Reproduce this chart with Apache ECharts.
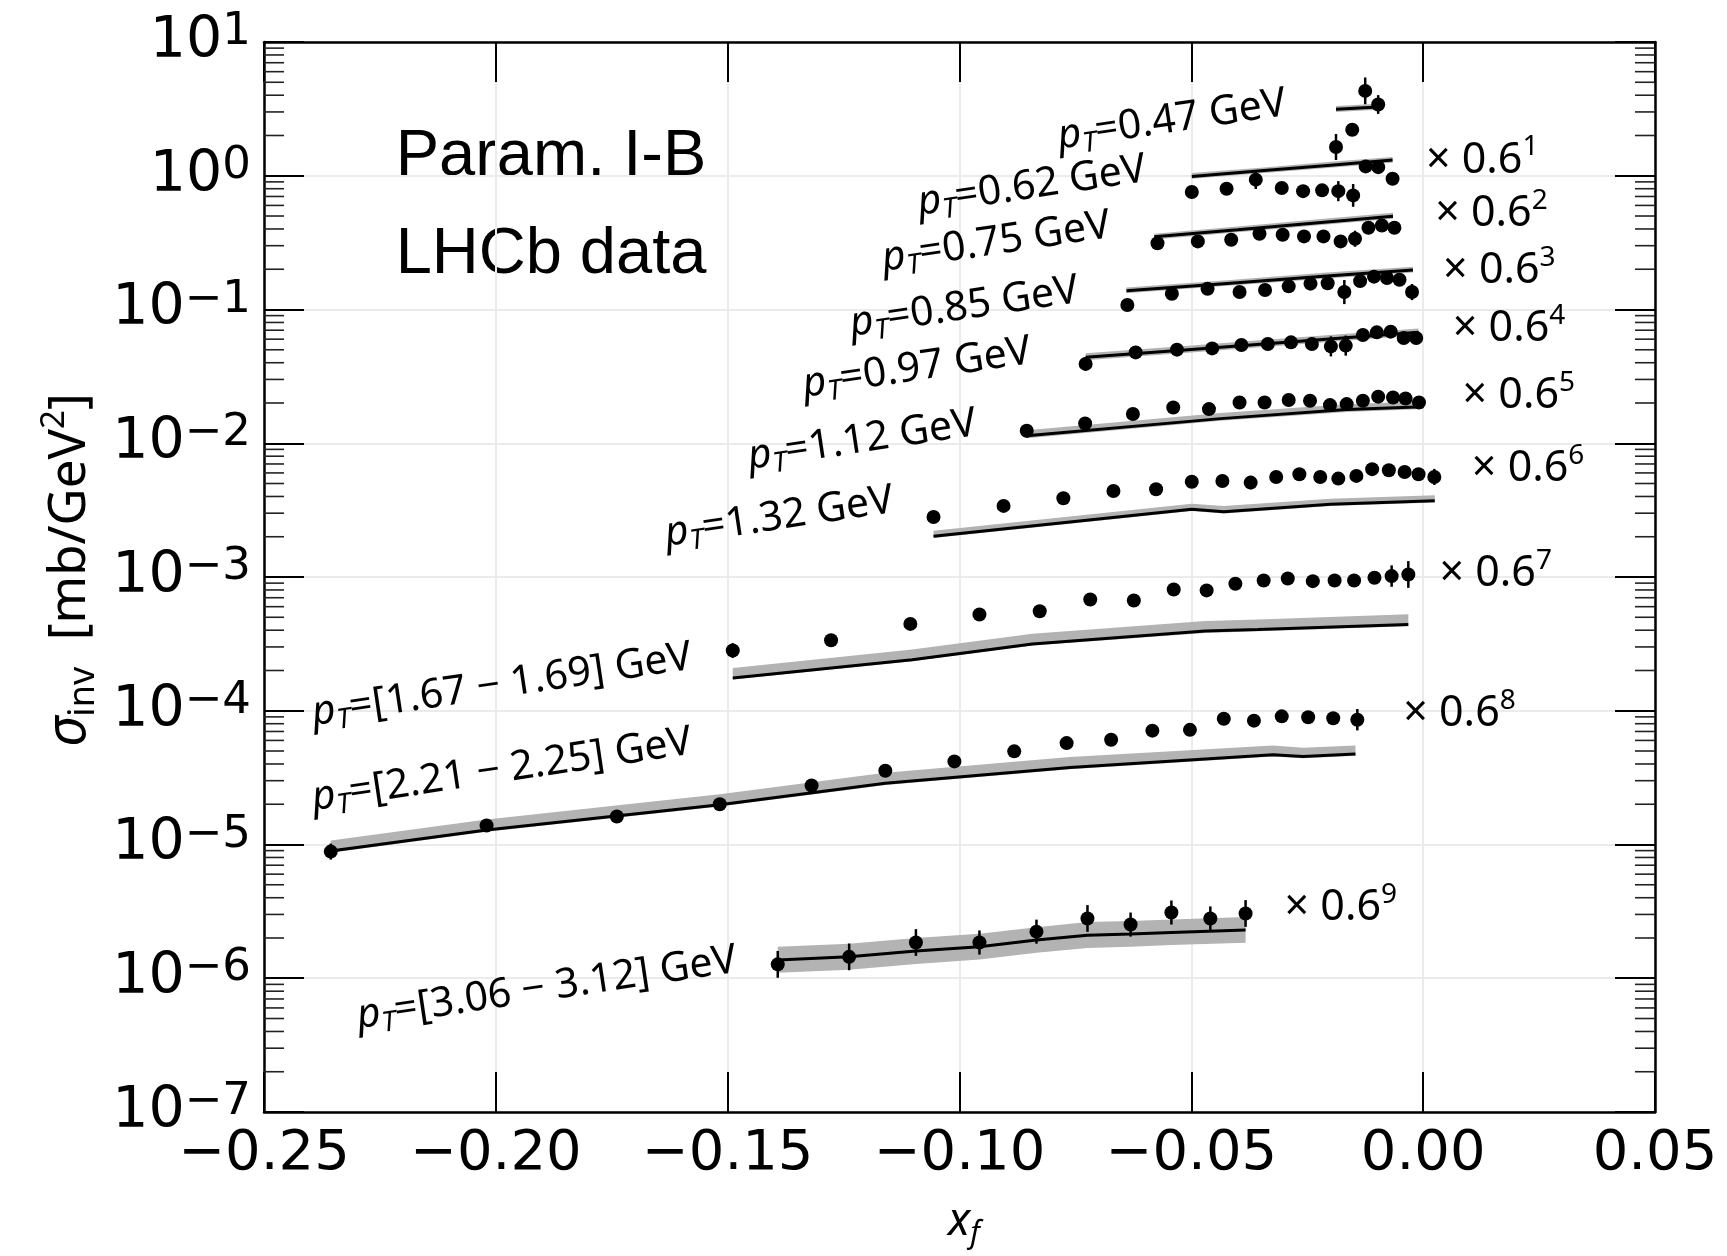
<!DOCTYPE html>
<html><head><meta charset="utf-8">
<script src="https://cdn.jsdelivr.net/npm/echarts@6/dist/echarts.min.js"></script>
<style>html,body{margin:0;padding:0;background:#fff}#c{width:1727px;height:1256px}</style>
</head><body><div id="c"></div>
<script>
// ---------- axis settings ----------
const xMin = -0.25, xMax = 0.05, xStep = 0.05;
const yMin = 1e-7, yMax = 10;
const minorMantissas = [2, 3, 4, 5, 6, 7, 8, 9];
const minorExps = [-7, -6, -5, -4, -3, -2, -1, 0];

// ---------- data (values as plotted, incl. x0.6^n scaling) ----------
// pT = 0.47 GeV
const x047 = [-0.0188, -0.0153, -0.0125, -0.0097];
const y047 = [1.64, 2.21, 4.31, 3.41];
const e047 = [0.097, 0, 0.1, 0.07];
const mx047 = [-0.0188, -0.0097];
const my047 = [3.14, 3.27];
const lo047 = [3.0, 3.12];
const hi047 = [3.32, 3.45];
// pT = 0.62 GeV  x0.6^1
const x062 = [-0.0499, -0.0424, -0.0361, -0.0305, -0.0259, -0.0218, -0.0183, -0.0151, -0.0124, -0.0097, -0.0066];
const y062 = [0.755, 0.80, 0.935, 0.81, 0.767, 0.778, 0.767, 0.713, 1.175, 1.16, 0.95];
const e062 = [0, 0, 0.07, 0, 0, 0, 0.075, 0.085, 0, 0, 0];
const mx062 = [-0.0499, -0.035, -0.020, -0.0066];
const my062 = [0.987, 1.089, 1.20, 1.31];
const lo062 = [0.95, 1.045, 1.15, 1.25];
const hi062 = [1.05, 1.15, 1.27, 1.38];
// pT = 0.75 GeV  x0.6^2
const x075 = [-0.0573, -0.0486, -0.0414, -0.0353, -0.0303, -0.0257, -0.0215, -0.0178, -0.0147, -0.0118, -0.0089, -0.0062];
const y075 = [0.313, 0.323, 0.332, 0.368, 0.362, 0.352, 0.352, 0.323, 0.338, 0.408, 0.425, 0.408];
const e075 = [0, 0, 0, 0.045, 0, 0, 0, 0, 0.06, 0, 0, 0];
const mx075 = [-0.058, -0.040, -0.022, -0.0065];
const my075 = [0.350, 0.394, 0.447, 0.498];
const lo075 = [0.334, 0.378, 0.429, 0.478];
const hi075 = [0.369, 0.418, 0.474, 0.528];
// pT = 0.85 GeV  x0.6^3
const x085 = [-0.0638, -0.0542, -0.0465, -0.0396, -0.0341, -0.0290, -0.0243, -0.0206, -0.0170, -0.0136, -0.0106, -0.0078, -0.0051, -0.0024];
const y085 = [0.108, 0.131, 0.143, 0.135, 0.140, 0.149, 0.156, 0.157, 0.135, 0.163, 0.176, 0.172, 0.167, 0.135];
const e085 = [0, 0, 0, 0, 0, 0, 0, 0, 0.09, 0, 0, 0, 0, 0.06];
const mx085 = [-0.064, -0.043, -0.0215, -0.0022];
const my085 = [0.138, 0.156, 0.177, 0.197];
const lo085 = [0.132, 0.150, 0.170, 0.189];
const hi085 = [0.146, 0.165, 0.188, 0.209];
// pT = 0.97 GeV  x0.6^4
const x097 = [-0.0728, -0.0620, -0.0531, -0.0455, -0.0392, -0.0335, -0.0285, -0.0240, -0.0199, -0.0167, -0.0130, -0.0100, -0.0070, -0.0042, -0.0015];
const y097 = [0.0392, 0.0478, 0.0501, 0.0512, 0.0543, 0.0552, 0.0568, 0.0552, 0.0530, 0.0537, 0.0645, 0.0675, 0.0683, 0.0613, 0.0613];
const e097 = [0.05, 0, 0, 0, 0, 0, 0, 0, 0.075, 0.075, 0, 0, 0, 0, 0];
const mx097 = [-0.0728, -0.050, -0.026, -0.001];
const my097 = [0.0439, 0.0503, 0.0581, 0.0675];
const lo097 = [0.0417, 0.0478, 0.0552, 0.0641];
const hi097 = [0.0470, 0.0538, 0.0622, 0.0722];
// pT = 1.12 GeV  x0.6^5
const x112 = [-0.0855, -0.0729, -0.0626, -0.0539, -0.0462, -0.0396, -0.0342, -0.0290, -0.0244, -0.0201, -0.0165, -0.0130, -0.0097, -0.0065, -0.0038, -0.0009];
const y112 = [0.0124, 0.01406, 0.01653, 0.01851, 0.0180, 0.02018, 0.02018, 0.02104, 0.0208, 0.01929, 0.01962, 0.0208, 0.0223, 0.0220, 0.0216, 0.0202];
const e112 = [0.05, 0, 0, 0, 0, 0, 0, 0, 0, 0, 0, 0, 0, 0, 0, 0];
const mx112 = [-0.0855, -0.0437, -0.0165, 0.0];
const my112 = [0.01136, 0.01528, 0.01786, 0.01871];
const lo112 = [0.0109, 0.0147, 0.0171, 0.0180];
const hi112 = [0.0125, 0.0168, 0.0196, 0.0206];
// pT = 1.32 GeV  x0.6^6
const x132 = [-0.1056, -0.0905, -0.0776, -0.0668, -0.0576, -0.0499, -0.0433, -0.0372, -0.0317, -0.0267, -0.0222, -0.0183, -0.0144, -0.0110, -0.0074, -0.0040, -0.0010, 0.0024];
const y132 = [0.00281, 0.00340, 0.00388, 0.00440, 0.00453, 0.00516, 0.00522, 0.00508, 0.00560, 0.00586, 0.00560, 0.00544, 0.00570, 0.00640, 0.00629, 0.00610, 0.00586, 0.00560];
const e132 = [0, 0, 0, 0, 0, 0, 0, 0.05, 0, 0, 0, 0, 0, 0, 0, 0, 0, 0.06];
const mx132 = [-0.1056, -0.0499, -0.043, -0.020, 0.0025];
const my132 = [0.00202, 0.00321, 0.00308, 0.0035, 0.00371];
const lo132 = [0.00196, 0.00311, 0.00299, 0.0034, 0.0036];
const hi132 = [0.00222, 0.00353, 0.00339, 0.00385, 0.00408];
// pT = [1.67-1.69] GeV  x0.6^7
const x167 = [-0.1489, -0.1277, -0.1106, -0.0957, -0.0827, -0.0718, -0.0624, -0.0538, -0.0467, -0.0405, -0.0344, -0.0292, -0.0238, -0.0191, -0.0149, -0.0105, -0.0068, -0.0032];
const y167 = [2.82e-4, 3.37e-4, 4.46e-4, 5.25e-4, 5.55e-4, 6.79e-4, 6.68e-4, 8.07e-4, 7.94e-4, 8.90e-4, 9.42e-4, 9.75e-4, 9.31e-4, 9.42e-4, 9.42e-4, 9.86e-4, 1.016e-3, 1.045e-3];
const e167 = [0.055, 0, 0, 0, 0, 0, 0, 0, 0, 0, 0, 0, 0, 0, 0, 0, 0.08, 0.1];
const mx167 = [-0.1489, -0.1102, -0.0843, -0.0470, -0.0356, -0.0032];
const my167 = [1.76e-4, 2.41e-4, 3.16e-4, 3.94e-4, 4.05e-4, 4.42e-4];
const lo167 = [1.71e-4, 2.34e-4, 3.07e-4, 3.82e-4, 3.93e-4, 4.29e-4];
const hi167 = [2.09e-4, 2.87e-4, 3.76e-4, 4.69e-4, 4.82e-4, 5.26e-4];
// pT = [2.21-2.25] GeV  x0.6^8
const x221 = [-0.2356, -0.2020, -0.1739, -0.1517, -0.1319, -0.1160, -0.1011, -0.0882, -0.0769, -0.0673, -0.0584, -0.0503, -0.0430, -0.0365, -0.0305, -0.0248, -0.0194, -0.0142];
const y221 = [8.85e-6, 1.387e-5, 1.62e-5, 2.0e-5, 2.76e-5, 3.56e-5, 4.18e-5, 4.97e-5, 5.73e-5, 6.07e-5, 7.1e-5, 7.2e-5, 8.72e-5, 8.43e-5, 9.08e-5, 8.93e-5, 8.8e-5, 8.57e-5];
const e221 = [0.06, 0.04, 0.045, 0.035, 0.04, 0.035, 0.04, 0.03, 0, 0, 0, 0, 0, 0, 0, 0, 0, 0.08];
const mx221 = [-0.2356, -0.2020, -0.1517, -0.1160, -0.0762, -0.0324, -0.0259, -0.0146];
const my221 = [8.95e-6, 1.285e-5, 1.98e-5, 2.87e-5, 3.77e-5, 4.69e-5, 4.55e-5, 4.74e-5];
const lo221 = [8.68e-6, 1.246e-5, 1.92e-5, 2.78e-5, 3.66e-5, 4.55e-5, 4.41e-5, 4.6e-5];
const hi221 = [1.07e-5, 1.54e-5, 2.38e-5, 3.44e-5, 4.52e-5, 5.5e-5, 5.3e-5, 5.5e-5];
// pT = [3.06-3.12] GeV  x0.6^9
const x306 = [-0.1392, -0.1238, -0.1094, -0.0957, -0.0834, -0.0724, -0.0631, -0.0543, -0.0459, -0.0383];
const y306 = [1.27e-6, 1.445e-6, 1.85e-6, 1.85e-6, 2.23e-6, 2.8e-6, 2.52e-6, 3.1e-6, 2.8e-6, 3.05e-6];
const e306 = [0.1, 0.1, 0.1, 0.09, 0.09, 0.1, 0.09, 0.09, 0.09, 0.1];
const mx306 = [-0.1392, -0.1238, -0.1094, -0.0957, -0.0834, -0.0724, -0.0631, -0.0543, -0.0383];
const my306 = [1.37e-6, 1.445e-6, 1.60e-6, 1.72e-6, 1.93e-6, 2.10e-6, 2.14e-6, 2.20e-6, 2.29e-6];
const lo306 = [1.10e-6, 1.16e-6, 1.28e-6, 1.38e-6, 1.55e-6, 1.68e-6, 1.72e-6, 1.77e-6, 1.84e-6];
const hi306 = [1.72e-6, 1.81e-6, 2.0e-6, 2.15e-6, 2.41e-6, 2.63e-6, 2.68e-6, 2.75e-6, 2.87e-6];

// ---------- annotation texts ----------
const ptLabels = ['0.47 GeV', '0.62 GeV', '0.75 GeV', '0.85 GeV', '0.97 GeV', '1.12 GeV', '1.32 GeV',
  '[1.67 − 1.69] GeV', '[2.21 − 2.25] GeV', '[3.06 − 3.12] GeV'];
const ptLabelX = [-0.0542, -0.0844, -0.0921, -0.0990, -0.1092, -0.1210, -0.1389, -0.1987, -0.1987, -0.1890];
const ptLabelY = [2.60, 0.834, 0.318, 0.1039, 0.03634, 0.01052, 0.002794, 1.549e-4, 3.59e-5, 8.41e-7];
const scaleExps = ['1', '2', '3', '4', '5', '6', '7', '8', '9'];
const scaleLabelX = [0.0006, 0.0026, 0.0043, 0.0064, 0.0085, 0.0105, 0.0035, -0.0043, -0.0299];
const scaleLabelY = [1.305, 0.521, 0.194, 0.072, 0.02255, 0.00646, 0.00106, 9.53e-5, 3.34e-6];
const infoLines = ['Param. I-B', 'LHCb data'];

// ---------- build ----------
const sets = [
  [x047, y047, e047, mx047, my047, lo047, hi047],
  [x062, y062, e062, mx062, my062, lo062, hi062],
  [x075, y075, e075, mx075, my075, lo075, hi075],
  [x085, y085, e085, mx085, my085, lo085, hi085],
  [x097, y097, e097, mx097, my097, lo097, hi097],
  [x112, y112, e112, mx112, my112, lo112, hi112],
  [x132, y132, e132, mx132, my132, lo132, hi132],
  [x167, y167, e167, mx167, my167, lo167, hi167],
  [x221, y221, e221, mx221, my221, lo221, hi221],
  [x306, y306, e306, mx306, my306, lo306, hi306]
];
const zip = (a, b) => a.map((v, i) => [v, b[i]]);
const series = [];

// minor ticks on the log axis (left and right spines)
const minorVals = [];
minorExps.forEach(e => minorMantissas.forEach(m => minorVals.push([xMin, m * Math.pow(10, e)])));
series.push({
  type: 'custom', xAxisIndex: 0, yAxisIndex: 0, silent: true, clip: false, z: 5,
  data: minorVals,
  renderItem: (params, api) => {
    const v = api.value(1);
    const p = api.coord([xMin, v]);
    const q = api.coord([xMax, v]);
    return { type: 'group', children: [
      { type: 'line', shape: { x1: p[0], y1: p[1], x2: p[0] + 20, y2: p[1] }, style: { stroke: '#222', lineWidth: 1.6 } },
      { type: 'line', shape: { x1: q[0] - 20, y1: q[1], x2: q[0], y2: q[1] }, style: { stroke: '#222', lineWidth: 1.6 } }
    ]};
  }
});

sets.forEach(([xs, ys, es, mx, my, lo, hi]) => {
  // uncertainty band
  series.push({
    type: 'custom', silent: true, z: 2,
    data: mx.map((v, i) => [v, my[i]]),
    renderItem: (params, api) => {
      if (params.dataIndex !== 0) return null;
      const pts = [];
      for (let i = 0; i < mx.length; i++) pts.push(api.coord([mx[i], hi[i]]));
      for (let i = mx.length - 1; i >= 0; i--) pts.push(api.coord([mx[i], lo[i]]));
      return { type: 'polygon', shape: { points: pts }, style: { fill: '#b3b3b3' } };
    }
  });
  // model line
  series.push({
    type: 'line', data: zip(mx, my), symbol: 'none', silent: true, z: 3,
    lineStyle: { color: '#000', width: 3 }
  });
  // error bars
  series.push({
    type: 'custom', silent: true, z: 4,
    data: xs.map((v, i) => [v, ys[i], es[i]]),
    renderItem: (params, api) => {
      const e = api.value(2);
      if (!(e > 0)) return null;
      const x = api.value(0), y = api.value(1);
      const a = api.coord([x, y * Math.pow(10, e)]);
      const b = api.coord([x, y / Math.pow(10, e)]);
      return { type: 'line', shape: { x1: a[0], y1: a[1], x2: b[0], y2: b[1] }, style: { stroke: '#000', lineWidth: 2.5 } };
    }
  });
  // data points
  series.push({
    type: 'scatter', data: zip(xs, ys), symbol: 'circle', symbolSize: 14, silent: true, z: 6,
    itemStyle: { color: '#000', opacity: 1 }
  });
});

const labFont = 'Noto Sans';
series.push({
  type: 'scatter', symbolSize: 0, silent: true, z: 10, itemStyle: { opacity: 1 },
  data: ptLabels.map((t, i) => ({ name: t, value: [ptLabelX[i], ptLabelY[i]] })),
  label: {
    show: true, position: [0, 0], align: 'center', verticalAlign: 'middle', rotate: 8.5, color: '#000',
    formatter: p => '{p|p}{sub|T}{t|=' + p.name + '}',
    rich: {
      p: { fontFamily: labFont, fontStyle: 'italic', fontSize: 41, lineHeight: 50, color: '#000' },
      sub: { fontFamily: labFont, fontStyle: 'italic', fontSize: 28, lineHeight: 26, verticalAlign: 'bottom', color: '#000' },
      t: { fontFamily: labFont, fontSize: 41, lineHeight: 50, color: '#000' }
    }
  }
});
series.push({
  type: 'scatter', symbolSize: 0, silent: true, z: 10, itemStyle: { opacity: 1 },
  data: scaleExps.map((t, i) => ({ name: t, value: [scaleLabelX[i], scaleLabelY[i]] })),
  label: {
    show: true, position: [0, 0], align: 'left', verticalAlign: 'middle', color: '#000',
    formatter: p => '{t|× 0.6}{s|' + p.name + '}',
    rich: {
      t: { fontFamily: labFont, fontSize: 43, lineHeight: 54, color: '#000' },
      s: { fontFamily: labFont, fontSize: 28, lineHeight: 28, verticalAlign: 'top', color: '#000' }
    }
  }
});

const fmtX = v => {
  if (Math.abs(v) < 1e-9) return '0.00';
  return (v < 0 ? '−' : '') + Math.abs(v).toFixed(2);
};
const fmtY = v => {
  const e = Math.round(Math.log10(v));
  return '{b|10}{s|' + (e < 0 ? '−' + (-e) : String(e)) + '}';
};
const tickFont = 'DejaVu Sans';
const spine = { show: true, onZero: false, lineStyle: { color: '#000', width: 2.5 } };
const majTick = { show: true, inside: true, length: 40, lineStyle: { color: '#000', width: 2 } };
const grid = { show: true, lineStyle: { color: '#ebebeb', width: 2 } };

const option = {
  animation: false,
  backgroundColor: '#fff',
  grid: { left: 264, top: 42, width: 1391, height: 1070, containLabel: false },
  xAxis: [
    { type: 'value', min: xMin, max: xMax, interval: xStep, position: 'bottom',
      axisLine: spine, axisTick: majTick, splitLine: grid,
      axisLabel: { fontFamily: tickFont, fontSize: 56, color: '#000', margin: 14, formatter: fmtX, hideOverlap: false } },
    { type: 'value', min: xMin, max: xMax, interval: xStep, position: 'top',
      axisLine: spine, axisTick: majTick, splitLine: { show: false }, axisLabel: { show: false } }
  ],
  yAxis: [
    { type: 'log', logBase: 10, min: yMin, max: yMax, position: 'left',
      axisLine: spine, axisTick: majTick, splitLine: grid,
      axisLabel: { formatter: fmtY, margin: 13, hideOverlap: false, showMinLabel: true, showMaxLabel: true,
        rich: {
          b: { fontFamily: tickFont, fontSize: 57, lineHeight: 64, color: '#000' },
          s: { fontFamily: tickFont, fontSize: 45, lineHeight: 32, verticalAlign: 'top', color: '#000' }
        } } },
    { type: 'log', logBase: 10, min: yMin, max: yMax, position: 'right',
      axisLine: spine, axisTick: majTick, splitLine: { show: false }, axisLabel: { show: false } }
  ],
  graphic: [
    { type: 'text', x: 551, y: 157, style: { text: infoLines[0], font: '65px "Liberation Sans"', fill: '#000', align: 'center', verticalAlign: 'middle' } },
    { type: 'text', x: 551, y: 255, style: { text: infoLines[1], font: '65px "Liberation Sans"', fill: '#000', align: 'center', verticalAlign: 'middle' } },
    { type: 'text', x: 70, y: 570, rotation: Math.PI / 2,
      style: { text: '{it|σ}{sub|inv}{n|  [mb/GeV}{sup|2}{n|]}', align: 'center', verticalAlign: 'middle',
        rich: {
          it: { fontFamily: labFont, fontStyle: 'italic', fontSize: 54, lineHeight: 64, fill: '#000' },
          sub: { fontFamily: labFont, fontSize: 36, lineHeight: 32, verticalAlign: 'bottom', fill: '#000' },
          n: { fontFamily: labFont, fontSize: 51, lineHeight: 64, fill: '#000' },
          sup: { fontFamily: labFont, fontSize: 33, lineHeight: 32, verticalAlign: 'top', fill: '#000' }
        } } },
    { type: 'text', x: 964, y: 1222,
      style: { text: '{it|x}{sub|f}', align: 'center', verticalAlign: 'middle',
        rich: {
          it: { fontFamily: labFont, fontStyle: 'italic', fontSize: 46, lineHeight: 54, fill: '#000' },
          sub: { fontFamily: labFont, fontStyle: 'italic', fontSize: 30, lineHeight: 26, verticalAlign: 'bottom', fill: '#000' }
        } } }
  ],
  series: series
};
const chart = echarts.init(document.getElementById('c'), null, { renderer: 'canvas' });
chart.setOption(option);
</script></body></html>
